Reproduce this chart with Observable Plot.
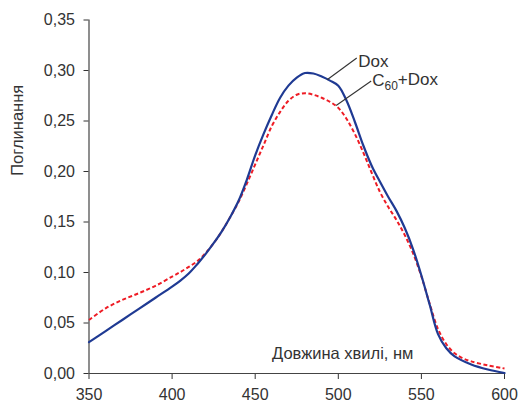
<!DOCTYPE html>
<html>
<head>
<meta charset="utf-8">
<script src="https://cdn.jsdelivr.net/npm/d3@7"></script>
<script src="https://cdn.jsdelivr.net/npm/@observablehq/plot@0.6"></script>
<style>
  html, body { margin: 0; padding: 0; background: #fff; }
  #chart svg { font-family: "Liberation Sans", Arial, sans-serif; }
</style>
</head>
<body>
<div id="chart"></div>
<script>
// Wavelength (nm) and absorbance for Dox
const doxWave = [350, 360, 370, 380, 390, 400, 405, 410, 415, 420, 425, 430, 435, 440, 445, 450, 455, 460, 465, 470, 475, 480, 485, 490, 495, 500, 505, 510, 515, 520, 525, 530, 535, 540, 545, 550, 555, 560, 565, 570, 580, 590, 600];
const doxAbs  = [0.031, 0.042, 0.053, 0.064, 0.075, 0.086, 0.092, 0.099, 0.108, 0.118, 0.129, 0.141, 0.155, 0.171, 0.192, 0.216, 0.237, 0.256, 0.273, 0.285, 0.293, 0.2975, 0.297, 0.294, 0.290, 0.285, 0.270, 0.249, 0.226, 0.206, 0.190, 0.175, 0.161, 0.144, 0.123, 0.097, 0.068, 0.039, 0.025, 0.017, 0.009, 0.004, 0.0005];

// Wavelength (nm) and absorbance for C60+Dox
const mixWave = [350, 360, 370, 380, 390, 400, 405, 410, 415, 420, 425, 430, 435, 440, 445, 450, 455, 460, 465, 470, 475, 480, 485, 490, 495, 500, 505, 510, 515, 520, 525, 530, 535, 540, 545, 550, 555, 560, 565, 570, 575, 580, 590, 600];
const mixAbs  = [0.053, 0.0645, 0.0728, 0.0795, 0.0868, 0.096, 0.1005, 0.1055, 0.111, 0.119, 0.129, 0.141, 0.155, 0.170, 0.188, 0.207, 0.226, 0.245, 0.259, 0.270, 0.276, 0.2775, 0.276, 0.273, 0.269, 0.263, 0.252, 0.237, 0.219, 0.199, 0.180, 0.165, 0.152, 0.137, 0.119, 0.096, 0.069, 0.044, 0.029, 0.020, 0.015, 0.012, 0.008, 0.005];

const xTicks = [350, 400, 450, 500, 550, 600];
const yTicks = [0, 0.05, 0.10, 0.15, 0.20, 0.25, 0.30, 0.35];

const xTitle = "Довжина хвилі, нм";
const yTitle = "Поглинання";

// Series labels with leader lines (data coordinates)
const seriesLabels = ["Dox", "C60+Dox"];
const labelX = [512.0, 520.4];
const labelY = [0.309, 0.290];
const leaderX1 = [493.3, 498.7];
const leaderY1 = [0.2908, 0.2653];
const leaderX2 = [511.1, 519.8];
const leaderY2 = [0.3124, 0.2896];

const dox = doxWave.map((w, i) => ({w, a: doxAbs[i]}));
const mix = mixWave.map((w, i) => ({w, a: mixAbs[i]}));
const labels = seriesLabels.map((t, i) => ({t, x: labelX[i], y: labelY[i]}));
const leaders = seriesLabels.map((t, i) => ({x1: leaderX1[i], y1: leaderY1[i], x2: leaderX2[i], y2: leaderY2[i]}));

const fmt = d => d3.format(".2f")(d).replace(".", ",");

const chart = Plot.plot({
  width: 525,
  height: 405,
  marginLeft: 88.5,
  marginRight: 21,
  marginTop: 19.5,
  marginBottom: 32,
  style: {fontFamily: '"Liberation Sans", Arial, sans-serif', fontSize: "16px", color: "#333", background: "#fff"},
  x: {domain: [350, 600], ticks: xTicks, tickSize: 6, tickPadding: 9, label: null},
  y: {domain: [0, 0.35], ticks: yTicks, tickFormat: fmt, tickSize: 5, tickPadding: 9, label: null},
  marks: [
    Plot.ruleX([350], {stroke: "#444", strokeWidth: 1.2}),
    Plot.ruleY([0], {stroke: "#444", strokeWidth: 1.2}),
    Plot.line(mix, {x: "w", y: "a", stroke: "#ee1c25", strokeWidth: 2, strokeDasharray: "4,2.5", strokeLinecap: "butt", curve: "catmull-rom"}),
    Plot.line(dox, {x: "w", y: "a", stroke: "#1f3a93", strokeWidth: 2.2, curve: "catmull-rom"}),
    Plot.link(leaders, {x1: "x1", y1: "y1", x2: "x2", y2: "y2", stroke: "#333", strokeWidth: 1.1}),
    Plot.text(labels, {x: "x", y: "y", text: "t", textAnchor: "start", fontSize: 17, fill: "#333"}),
    Plot.text([xTitle], {frameAnchor: "bottom", dx: 46, dy: -15, fontSize: 16.5, fill: "#333"}),
    Plot.text([yTitle], {frameAnchor: "left", rotate: -90, dx: -71.5, dy: -21, fontSize: 16.5, fill: "#333"})
  ]
});

// Subscript for C60
d3.select(chart).selectAll("text").each(function() {
  const el = d3.select(this);
  if (el.text() === "C60+Dox") {
    el.text("");
    el.append("tspan").text("C");
    el.append("tspan").attr("font-size", 12).attr("dy", "0.3em").text("60");
    el.append("tspan").attr("dy", "-0.3em").text("+Dox");
  }
});

document.getElementById("chart").appendChild(chart);
</script>
</body>
</html>
